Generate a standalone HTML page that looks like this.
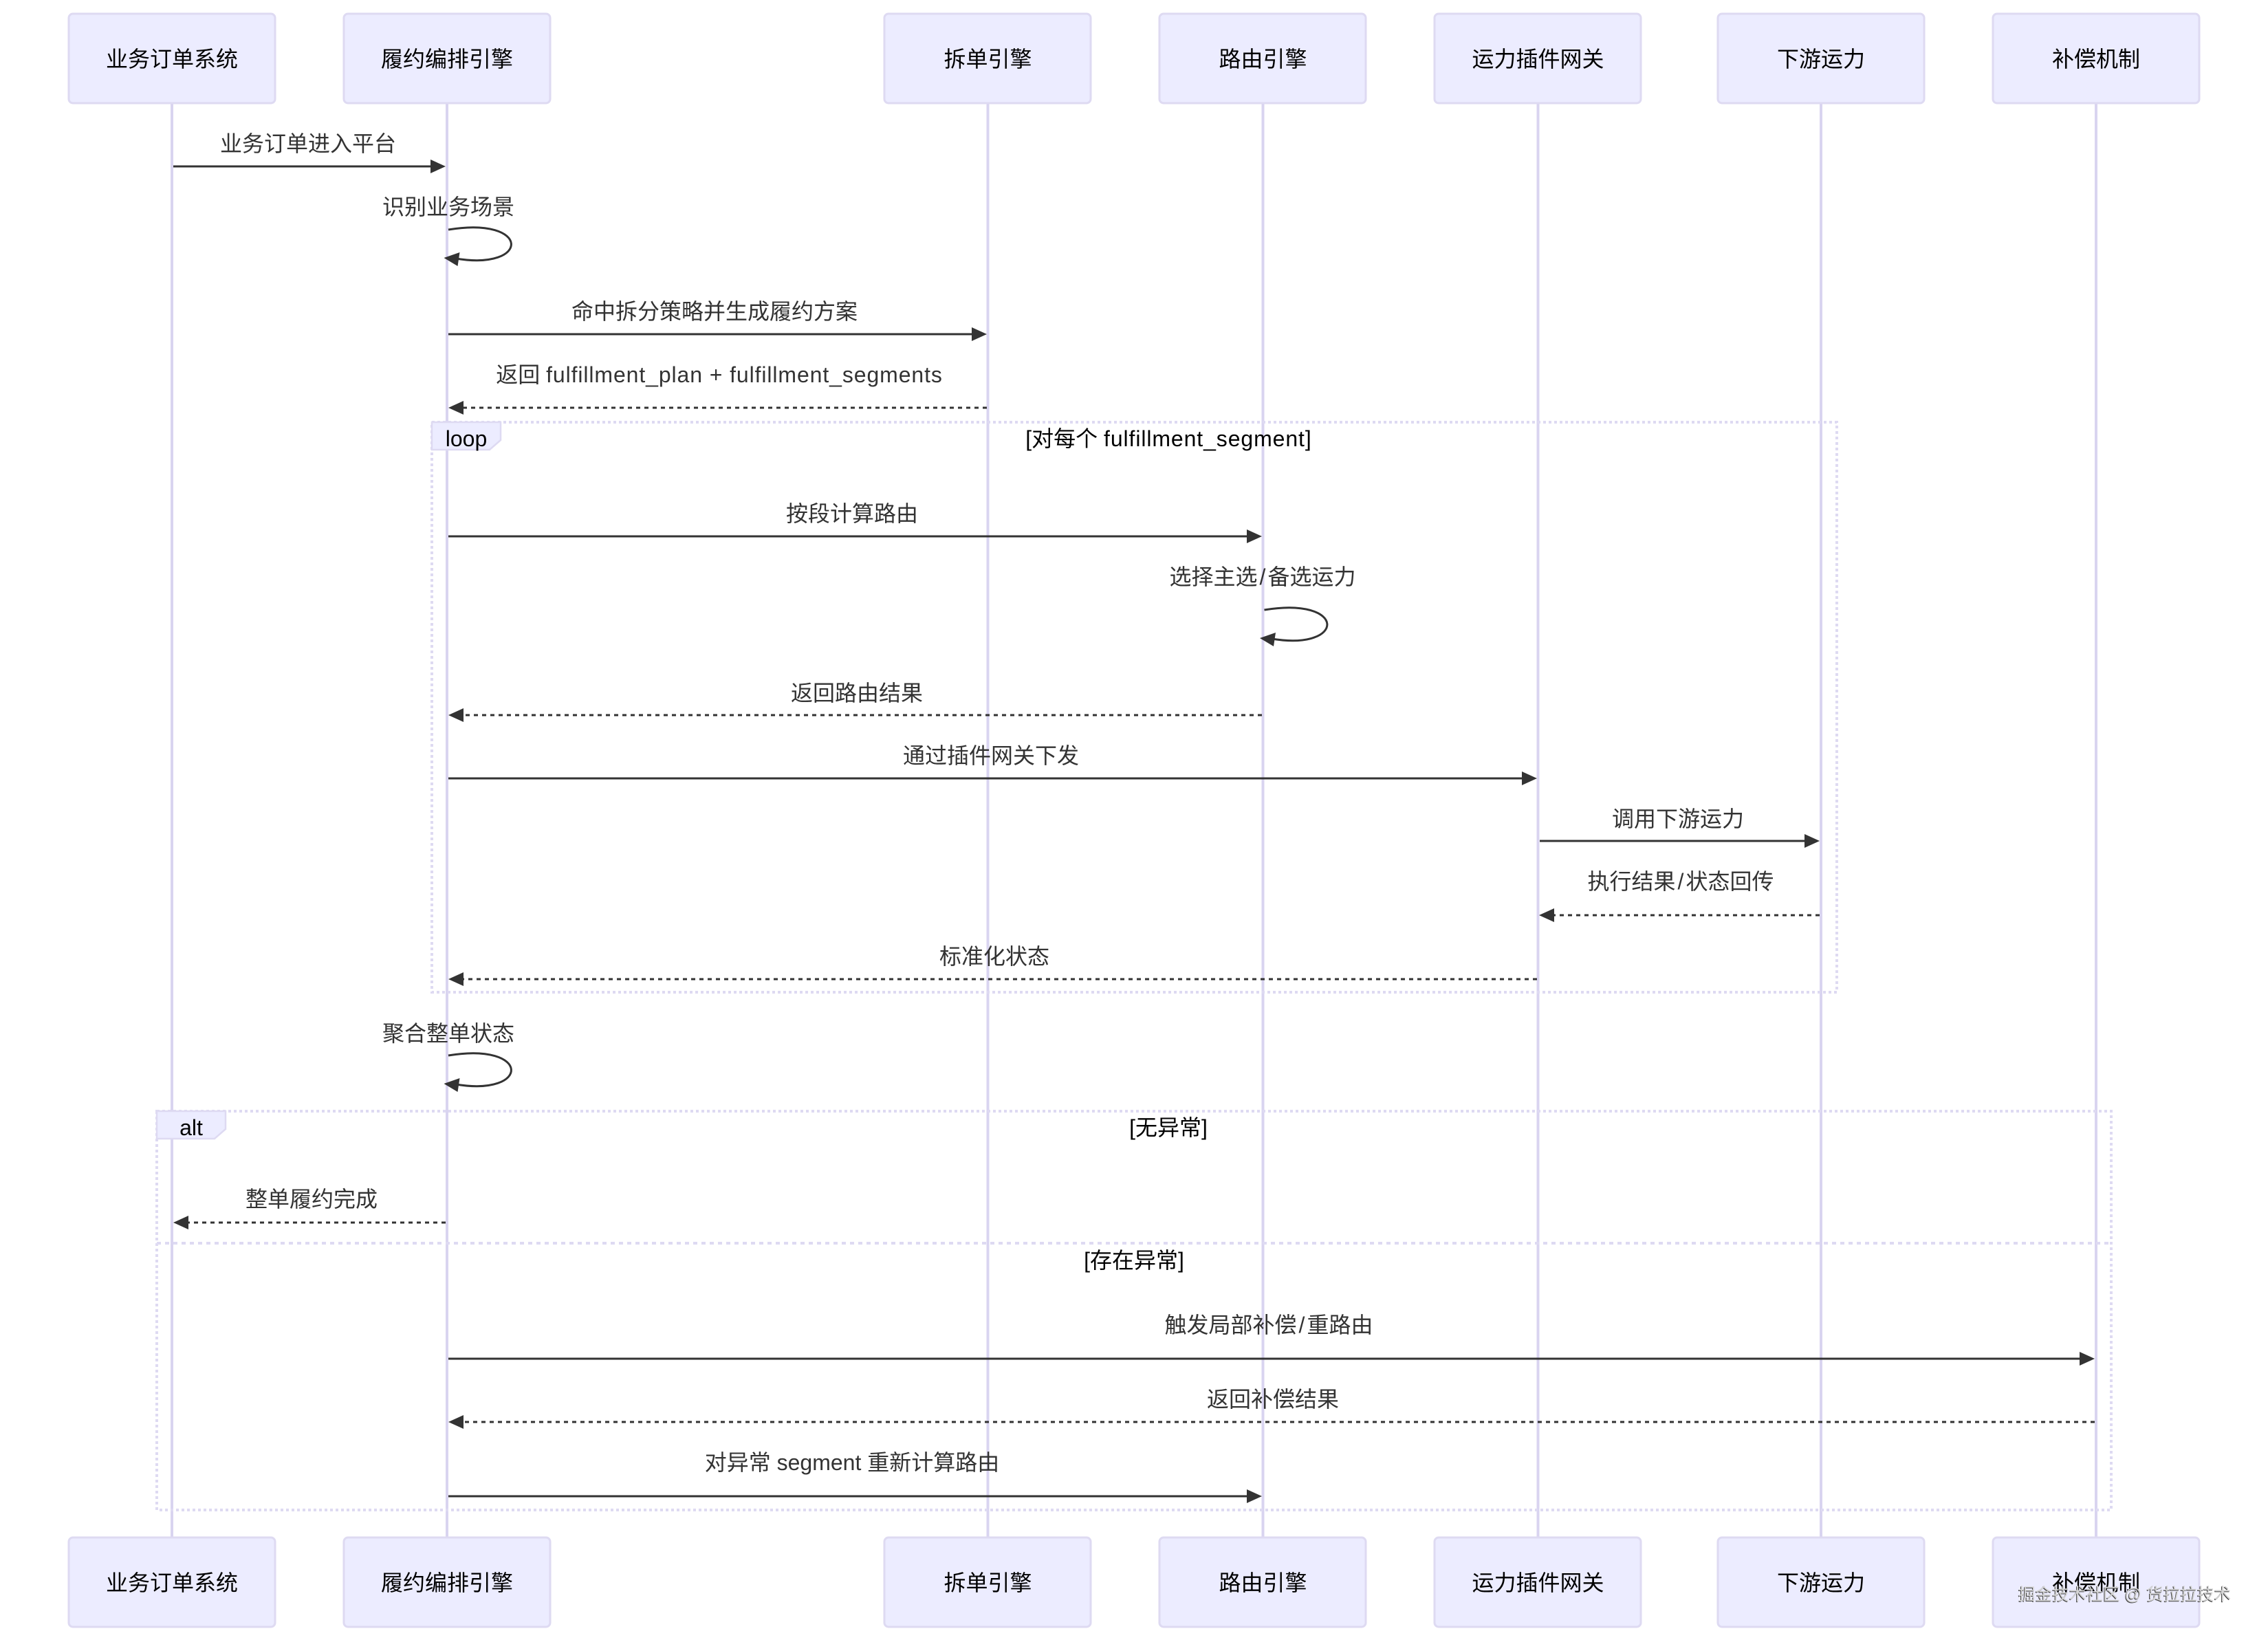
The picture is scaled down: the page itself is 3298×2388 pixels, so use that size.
<!DOCTYPE html>
<html lang="zh"><head><meta charset="utf-8"><title>Sequence diagram</title>
<style>
html,body{margin:0;padding:0;background:#fff}
body{width:3298px;height:2388px;position:relative;overflow:hidden}
svg{position:absolute;left:0;top:0}
text{font-family:"Liberation Sans","Noto Sans CJK SC",sans-serif;font-size:32px;text-anchor:middle;dominant-baseline:central}
.box{fill:#ececff;stroke:#dedaf2;stroke-width:3}
.life{stroke:#d9d4f0;stroke-width:4}
.m{fill:#333}
.a{fill:#000}
.s{stroke:#333;stroke-width:3;fill:none}
.d{stroke:#333;stroke-width:3;fill:none;stroke-dasharray:6 6}
.h{fill:#333}
.f{stroke:#dedaf2;stroke-width:4;fill:none;stroke-dasharray:4 4}
.fd{stroke:#dedaf2;stroke-width:4;fill:none;stroke-dasharray:6 6}
.tab{fill:#ececff;stroke:#dedaf2;stroke-width:2.5}
.w{letter-spacing:.9px}
#wm{position:absolute;left:2935px;top:2302px;width:312px;font:24.6px/36px "Liberation Sans","Noto Sans CJK SC",sans-serif;color:#d4d4d4;white-space:pre;text-shadow:-1px 1px 0 #444}
</style></head><body>
<svg width="3298" height="2388" viewBox="0 0 3298 2388" xmlns="http://www.w3.org/2000/svg">
<g class="life">
<line x1="250" y1="150" x2="250" y2="2236"/><line x1="650" y1="150" x2="650" y2="2236"/><line x1="1436.5" y1="150" x2="1436.5" y2="2236"/><line x1="1836.5" y1="150" x2="1836.5" y2="2236"/><line x1="2236.5" y1="150" x2="2236.5" y2="2236"/><line x1="2648" y1="150" x2="2648" y2="2236"/><line x1="3048" y1="150" x2="3048" y2="2236"/>
</g>
<g class="box">
<rect x="100" y="20" width="300" height="130" rx="6"/><rect x="500" y="20" width="300" height="130" rx="6"/><rect x="1286" y="20" width="300" height="130" rx="6"/><rect x="1686" y="20" width="300" height="130" rx="6"/><rect x="2086" y="20" width="300" height="130" rx="6"/><rect x="2498" y="20" width="300" height="130" rx="6"/><rect x="2898" y="20" width="300" height="130" rx="6"/>
<rect x="100" y="2236" width="300" height="130" rx="6"/><rect x="500" y="2236" width="300" height="130" rx="6"/><rect x="1286" y="2236" width="300" height="130" rx="6"/><rect x="1686" y="2236" width="300" height="130" rx="6"/><rect x="2086" y="2236" width="300" height="130" rx="6"/><rect x="2498" y="2236" width="300" height="130" rx="6"/><rect x="2898" y="2236" width="300" height="130" rx="6"/>
</g>
<g class="a">
<text x="250" y="86">业务订单系统</text><text x="650" y="86">履约编排引擎</text><text x="1436.5" y="86">拆单引擎</text><text x="1836.5" y="86">路由引擎</text><text x="2236.5" y="86">运力插件网关</text><text x="2648" y="86">下游运力</text><text x="3048" y="86">补偿机制</text>
<text x="250" y="2302">业务订单系统</text><text x="650" y="2302">履约编排引擎</text><text x="1436.5" y="2302">拆单引擎</text><text x="1836.5" y="2302">路由引擎</text><text x="2236.5" y="2302">运力插件网关</text><text x="2648" y="2302">下游运力</text><text x="3048" y="2302">补偿机制</text>
</g>
<!-- frames -->
<rect class="f" x="628" y="614" width="2043" height="829"/>
<polygon class="tab" points="628,614 728,614 728,640 712,654 628,654"/>
<rect class="f" x="228" y="1616" width="2842" height="580"/>
<polygon class="tab" points="228,1616 328,1616 328,1642 312,1656 228,1656"/>
<line class="fd" x1="228" y1="1808" x2="3070" y2="1808"/>
<text class="a" x="678" y="638">loop</text>
<text class="a" x="278" y="1640">alt</text>
<text class="a" x="1699" y="638">[对每个 <tspan class="w">fulfillment_segment</tspan>]</text>
<text class="a" x="1699" y="1640">[无异常]</text>
<text class="a" x="1649" y="1833">[存在异常]</text>
<!-- messages -->
<g class="m">
<text x="448" y="209">业务订单进入平台</text>
<text x="652" y="301">识别业务场景</text>
<text x="1039" y="453">命中拆分策略并生成履约方案</text>
<text x="1046" y="545">返回 <tspan class="w">fulfillment_plan + fulfillment_segments</tspan></text>
<text x="1239" y="747">按段计算路由</text>
<text x="1836" y="839">选择主选<tspan dx="3">/</tspan><tspan dx="3">备选运力</tspan></text>
<text x="1246" y="1008">返回路由结果</text>
<text x="1441" y="1099">通过插件网关下发</text>
<text x="2440" y="1191">调用下游运力</text>
<text x="2444" y="1282">执行结果<tspan dx="3">/</tspan><tspan dx="3">状态回传</tspan></text>
<text x="1446" y="1391">标准化状态</text>
<text x="652" y="1503">聚合整单状态</text>
<text x="453" y="1744">整单履约完成</text>
<text x="1845" y="1927">触发局部补偿<tspan dx="3">/</tspan><tspan dx="3">重路由</tspan></text>
<text x="1851" y="2035">返回补偿结果</text>
<text x="1239" y="2127">对异常 segment 重新计算路由</text>
</g>
<line class="s" x1="252" y1="242" x2="630" y2="242"/><polygon class="h" points="648,242 626,232 626,252"/>
<path class="s" d="M652,334 C772,314 772,394 663,376"/><polygon class="h" points="645.5,375 668.5,367 665.5,387"/>
<line class="s" x1="652" y1="486" x2="1418" y2="486"/><polygon class="h" points="1435,486 1413,476 1413,496"/>
<line class="d" x1="1435" y1="593" x2="670" y2="593"/><polygon class="h" points="652,593 674,583 674,603"/>
<line class="s" x1="652" y1="780" x2="1818" y2="780"/><polygon class="h" points="1835,780 1813,770 1813,790"/>
<path class="s" d="M1838.5,887 C1958.5,867 1958.5,947 1849.5,929"/><polygon class="h" points="1832,928 1855,920 1852,940"/>
<line class="d" x1="1835" y1="1040" x2="670" y2="1040"/><polygon class="h" points="652,1040 674,1030 674,1050"/>
<line class="s" x1="652" y1="1132" x2="2218" y2="1132"/><polygon class="h" points="2235,1132 2213,1122 2213,1142"/>
<line class="s" x1="2239" y1="1223" x2="2630" y2="1223"/><polygon class="h" points="2646,1223 2624,1213 2624,1233"/>
<line class="d" x1="2646" y1="1331" x2="2257" y2="1331"/><polygon class="h" points="2238,1331 2260,1321 2260,1341"/>
<line class="d" x1="2235" y1="1424" x2="670" y2="1424"/><polygon class="h" points="652,1424 674,1414 674,1434"/>
<path class="s" d="M652,1535 C772,1515 772,1595 663,1577"/><polygon class="h" points="645.5,1576 668.5,1568 665.5,1588"/>
<line class="d" x1="648" y1="1778" x2="270" y2="1778"/><polygon class="h" points="252,1778 274,1768 274,1788"/>
<line class="s" x1="652" y1="1976" x2="3030" y2="1976"/><polygon class="h" points="3046,1976 3024,1966 3024,1986"/>
<line class="d" x1="3046" y1="2068" x2="670" y2="2068"/><polygon class="h" points="652,2068 674,2058 674,2078"/>
<line class="s" x1="652" y1="2176" x2="1818" y2="2176"/><polygon class="h" points="1835,2176 1813,2166 1813,2186"/>
</svg>
<div id="wm">掘金技术社区 @ 货拉拉技术</div>
</body></html>
